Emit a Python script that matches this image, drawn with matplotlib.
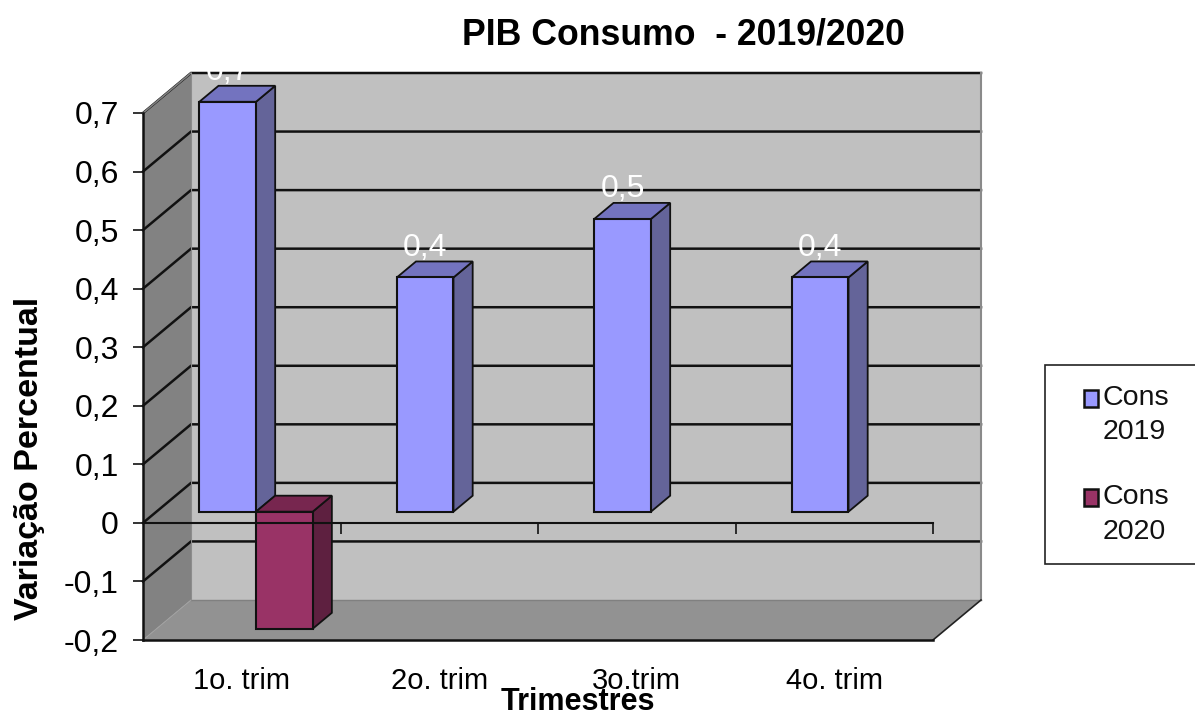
import matplotlib
matplotlib.use("Agg")
import matplotlib.pyplot as plt
from matplotlib.patches import Polygon, Rectangle

plt.rcParams['font.family'] = ['Liberation Sans', 'DejaVu Sans']

# Data
quarters = ['1o. trim', '2o. trim', '3o.trim', '4o. trim']
cons_2019 = [0.7, 0.4, 0.5, 0.4]
cons_2020 = [-0.2, None, None, None]
series_names = [('Cons', '2019'), ('Cons', '2020')]
y_ticks = [-0.2, -0.1, 0, 0.1, 0.2, 0.3, 0.4, 0.5, 0.6, 0.7]

# Figure geometry, in pixels
W, H = 1195, 713
FRONT_L, FRONT_R, FRONT_T, FRONT_B = 143, 933, 113, 640
DEPTH_PX_X, DEPTH_PX_Y = 48, 40

# Palette
WALL = '#c0c0c0'
SIDE_WALL = '#828282'
FLOOR = '#929292'
C19 = ('#9999ff', '#646499', '#7373bf')
C20 = ('#993366', '#5e2040', '#77264f')

fig = plt.figure(figsize=(W / 100, H / 100), dpi=100, facecolor='white')
ax = fig.add_axes([FRONT_L / W, 1 - FRONT_B / H,
                   (FRONT_R - FRONT_L) / W, (FRONT_B - FRONT_T) / H])
ax.set_xlim(0, len(quarters))
ax.set_ylim(y_ticks[0], y_ticks[-1])
ax.patch.set_visible(False)

# Oblique depth expressed in data units
DX = DEPTH_PX_X / ((FRONT_R - FRONT_L) / len(quarters))
DY = DEPTH_PX_Y / ((FRONT_B - FRONT_T) / (y_ticks[-1] - y_ticks[0]))


def poly(points, face, edge='none', lw=0.0, z=1):
    ax.add_patch(Polygon(points, closed=True, facecolor=face, edgecolor=edge,
                         linewidth=lw, zorder=z, clip_on=False))


x0, x1 = ax.get_xlim()
ymin, ymax = ax.get_ylim()

# Walls and floor
poly([(x0 + DX, ymin + DY), (x1 + DX, ymin + DY), (x1 + DX, ymax + DY), (x0 + DX, ymax + DY)], WALL, z=1)
poly([(x0, ymin), (x0 + DX, ymin + DY), (x0 + DX, ymax + DY), (x0, ymax)], SIDE_WALL, z=1)
poly([(x0, ymin), (x1, ymin), (x1 + DX, ymin + DY), (x0 + DX, ymin + DY)], FLOOR, z=1.1)

# Gridlines run along the side wall and the back wall
for v in y_ticks[1:]:
    ax.plot([x0, x0 + DX, x1 + DX], [v, v + DY, v + DY], color='#111111', lw=1.8,
            zorder=1.5, clip_on=False, solid_joinstyle='miter')
ax.plot([x0, x0 + DX], [ymax, ymax + DY], color='#808080', lw=1.2, zorder=1.6, clip_on=False)
ax.plot([x1 + DX, x1 + DX], [ymin + DY, ymax + DY], color='#8a8a8a', lw=1.5, zorder=1.6, clip_on=False)
ax.plot([x0 + DX, x0 + DX], [ymin + DY, ymax + DY], color='#8c8c8c', lw=0.8, zorder=1.6, clip_on=False)
ax.plot([x0 + DX, x1 + DX], [ymin + DY, ymin + DY], color='#808080', lw=1.0, zorder=1.6, clip_on=False)
ax.plot([x0, x0 + DX], [ymin, ymin + DY], color='#a0a0a0', lw=0.7, zorder=1.6, clip_on=False)
ax.plot([x1, x1 + DX], [ymin, ymin + DY], color='#222222', lw=1.2, zorder=1.6, clip_on=False)
ax.plot([x0, x1], [ymin, ymin], color='#111111', lw=1.8, zorder=1.6, clip_on=False)

# Cuboid bars
BAR_W = 0.287
D_FRONT, D_BACK = 0.28, 0.68
EDGE = '#111111'


def cuboid(x_left, value, colors, z):
    front, side, top = colors
    xa = x_left + D_FRONT * DX
    xb = xa + BAR_W
    base = D_FRONT * DY
    ox = (D_BACK - D_FRONT) * DX
    oy = (D_BACK - D_FRONT) * DY
    upper = base + max(value, 0)
    lower = base + min(value, 0)
    poly([(xb, lower), (xb + ox, lower + oy), (xb + ox, upper + oy), (xb, upper)], side, EDGE, 1.3, z)
    poly([(xa, upper), (xb, upper), (xb + ox, upper + oy), (xa + ox, upper + oy)], top, EDGE, 1.3, z)
    ax.bar(xa, value, BAR_W, bottom=base, align='edge', color=front, edgecolor=EDGE,
           linewidth=1.5, zorder=z + 0.1, clip_on=False)
    return (xa + xb) / 2, upper


GROUP_OFFSET = 0.217
for i, (a, b) in enumerate(zip(cons_2019, cons_2020)):
    cx, top_y = cuboid(i + GROUP_OFFSET, a, C19, 2)
    ax.annotate(f'{a:.1f}'.replace('.', ','), (cx, top_y), xytext=(0, 15.5),
                textcoords='offset points', ha='center', va='baseline',
                color='white', fontsize=23, zorder=6, annotation_clip=False)
    if b is not None:
        cuboid(i + GROUP_OFFSET + BAR_W, b, C20, 3)

# Axes: the category axis crosses at zero
for name in ('top', 'right'):
    ax.spines[name].set_visible(False)
ax.spines['bottom'].set_position(('data', 0))
ax.spines['bottom'].set_zorder(5)
ax.spines['bottom'].set_linewidth(1.5)
ax.spines['bottom'].set_color('#111111')
ax.spines['left'].set_zorder(5)
ax.spines['left'].set_linewidth(1.8)
ax.spines['left'].set_color('#111111')

ax.set_yticks(y_ticks)
ax.set_yticklabels([('0' if v == 0 else f'{v:.1f}'.replace('.', ',')) for v in y_ticks])
ax.tick_params(axis='y', length=7.2, width=1.2, pad=10.2, labelsize=23, color='#111111')
ax.set_xticks(range(1, len(quarters) + 1))
ax.set_xticklabels([])
ax.tick_params(axis='x', which='major', direction='out', length=8, width=1.2, color='#111111')
ax.set_xticks([i + 0.5 for i in range(len(quarters))], minor=True)
ax.set_xticklabels(quarters, minor=True)
ax.tick_params(axis='x', which='minor', length=0, pad=103.5, labelsize=21)


def axes_xy(px, py):
    return ((px - FRONT_L) / (FRONT_R - FRONT_L), (FRONT_B - py) / (FRONT_B - FRONT_T))


# Titles
ax.set_title('PIB Consumo  - 2019/2020', fontsize=25.7, fontweight='bold', pad=0,
             x=axes_xy(683, 0)[0], y=axes_xy(0, 35)[1], va='center', ha='center')
ax.set_xlabel('Trimestres', fontsize=22, fontweight='bold', va='center', ha='center')
ax.xaxis.set_label_coords(*axes_xy(578, 702))
ax.set_ylabel('Variação Percentual', fontsize=24.5, fontweight='bold', va='center', ha='center')
ax.yaxis.set_label_coords(*axes_xy(30, 458))

# Legend panel
fig.add_artist(Rectangle((1044.5 / W, 1 - 564 / H), (W + 5 - 1044.5) / W, 199 / H,
                         transform=fig.transFigure, facecolor='white',
                         edgecolor='#222222', linewidth=1.2))
rows = [(398, 432, C19[0]), (497, 532, C20[0])]
for (line_1, line_2), (y1, y2, color) in zip(series_names, rows):
    fig.add_artist(Rectangle((1083.5 / W, 1 - (y1 + 9) / H), 14 / W, 17 / H,
                             transform=fig.transFigure, facecolor=color,
                             edgecolor='#111111', linewidth=1.8))
    fig.text(1103 / W, 1 - y1 / H, line_1, fontsize=20.5, va='center', ha='left', color='#111111')
    fig.text(1134.5 / W, 1 - y2 / H, line_2, fontsize=20.5, va='center', ha='center', color='#111111')

fig.savefig('out.png', dpi=100, facecolor='white')
